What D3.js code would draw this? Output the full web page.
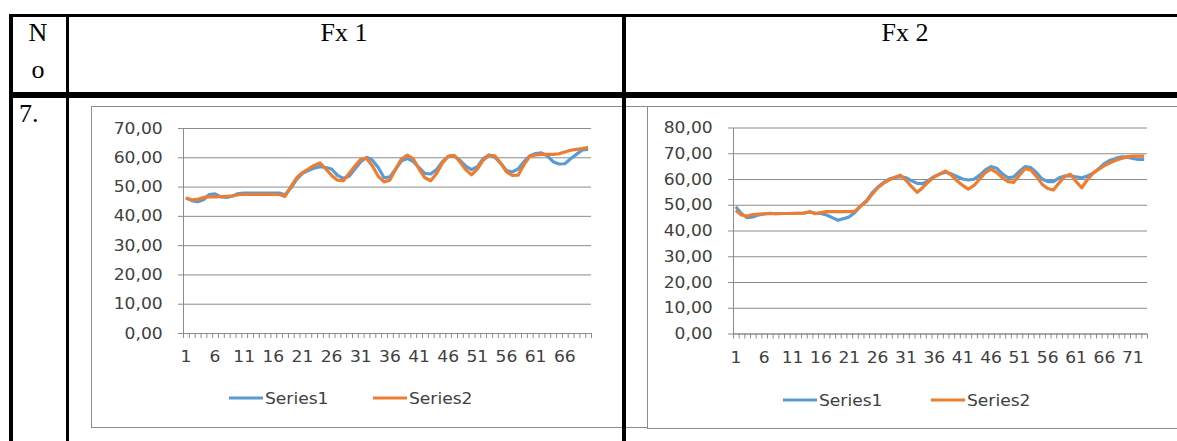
<!DOCTYPE html>
<html>
<head>
<meta charset="utf-8">
<script src="https://cdn.jsdelivr.net/npm/d3@7"></script>
<style>
  body { margin: 0; background: #fff; }
  svg { display: block; }
</style>
</head>
<body>
<div class="mydiv"></div>
<script>
var width = 1177;
var height = 441;

// data
var headers = ["Fx 1", "Fx 2"];
var rowNo = "7.";
var seriesNames = ["Series1", "Series2"];

var fx1Series1 = [46.2, 45.2, 44.8, 45.5, 47.3, 47.5, 46.5, 46.3, 46.8, 47.6,
                  47.8, 47.8, 47.8, 47.8, 47.8, 47.8, 47.8, 47.2, 49.5, 52.5,
                  54.5, 55.5, 56.3, 56.8, 56.5, 56.0, 53.8, 52.8, 53.5, 56.0,
                  58.5, 60.0, 59.0, 56.5, 53.0, 53.3, 56.0, 58.8, 59.6, 58.5,
                  56.5, 54.5, 54.3, 55.8, 58.5, 60.3, 60.5, 59.0, 57.0, 55.8,
                  56.8, 59.5, 60.8, 60.0, 58.0, 55.5, 55.0, 56.0, 58.5, 60.5,
                  61.3, 61.5, 60.5, 58.5, 57.7, 57.8, 59.5, 61.0, 62.5, 62.7];
var fx1Series2 = [46.0, 45.5, 45.6, 46.3, 46.5, 46.5, 46.6, 46.7, 46.8, 47.2,
                  47.3, 47.3, 47.3, 47.3, 47.3, 47.3, 47.3, 46.6, 50.0, 53.0,
                  54.8, 56.0, 57.2, 58.1, 56.0, 53.8, 52.2, 52.0, 54.5, 57.0,
                  59.3, 59.6, 57.0, 53.5, 51.6, 52.2, 56.0, 59.5, 60.7, 59.5,
                  56.0, 53.0, 52.0, 54.5, 58.0, 60.3, 60.7, 58.5, 55.8, 54.0,
                  56.0, 59.0, 60.7, 60.5, 58.0, 55.0, 53.8, 53.9, 57.5, 60.3,
                  60.8, 61.0, 61.0, 61.0, 61.2, 61.8, 62.4, 62.7, 63.0, 63.4];

var fx2Series1 = [49.2, 46.5, 45.0, 45.3, 46.0, 46.4, 46.7, 46.5, 46.6, 46.6,
                  46.7, 46.7, 46.8, 47.2, 46.8, 46.6, 46.0, 45.0, 44.0, 44.6,
                  45.3, 47.0, 49.5, 51.5, 54.5, 56.8, 58.5, 60.0, 60.6, 60.9,
                  60.5, 59.3, 58.3, 58.2, 59.5, 61.0, 62.0, 62.6, 62.0, 61.0,
                  60.0, 59.6, 59.9, 61.5, 63.5, 64.8, 64.2, 62.0, 60.5, 60.8,
                  63.0, 64.8, 64.4, 62.5, 60.0, 59.0, 59.0, 60.5, 61.1, 61.3,
                  60.8, 60.5, 61.2, 62.3, 64.0, 66.0, 67.3, 68.0, 68.6, 68.5,
                  68.0, 67.6, 67.6];
var fx2Series2 = [47.8, 46.0, 45.6, 46.2, 46.4, 46.5, 46.5, 46.5, 46.6, 46.6,
                  46.6, 46.7, 46.7, 47.3, 46.5, 47.0, 47.3, 47.3, 47.3, 47.3,
                  47.3, 47.5, 49.5, 51.2, 54.0, 56.5, 58.3, 59.6, 60.6, 61.5,
                  59.5, 57.0, 54.8, 56.8, 59.0, 60.8, 62.0, 63.1, 61.5, 59.3,
                  57.5, 56.1, 57.5, 60.0, 62.5, 63.8, 62.5, 60.5, 59.0, 58.7,
                  61.5, 64.0, 63.5, 61.0, 58.0, 56.3, 55.7, 58.5, 61.0, 61.8,
                  59.0, 56.6, 59.8, 62.3, 63.8, 65.2, 66.3, 67.3, 68.0, 68.6,
                  68.9, 68.9, 68.9];

var fx1YTicks = [0, 10, 20, 30, 40, 50, 60, 70];
var fx2YTicks = [0, 10, 20, 30, 40, 50, 60, 70, 80];

var blue = "#5B9BD5";
var orange = "#ED7D31";
var grid = "#8c8c8c";
var txt = "#404040";
var stretch = "scale(1.07,1)";

var svg = d3.select(".mydiv").append("svg")
    .attr("width", width)
    .attr("height", height);

var fmt = function(d) { return d3.format(".2f")(d).replace(".", ","); };

function drawChart(box, plot, yTicks, s1, s2, legend) {
  var g = svg.append("g");

  g.append("rect")
    .attr("x", box.x + 0.5).attr("y", box.y + 0.5)
    .attr("width", box.w).attr("height", box.h)
    .attr("fill", "#fff").attr("stroke", grid);

  var n = s1.length;
  var cats = d3.range(1, n + 1);
  var x = d3.scaleBand().domain(cats).range([plot.x0, plot.x1]);
  var xb = d3.scaleLinear().domain([0, n]).range([plot.x0, plot.x1]);
  var y = d3.scaleLinear().domain([0, d3.max(yTicks)]).range([plot.y0, plot.y1]);

  // gridlines
  g.append("g")
    .attr("transform", "translate(" + plot.x0 + ",0)")
    .call(d3.axisLeft(y).tickValues(yTicks).tickSize(-(plot.x1 - plot.x0)).tickFormat(""))
    .call(function(a) { a.select(".domain").remove(); })
    .selectAll("line").attr("stroke", grid);

  // y axis
  var ya = g.append("g")
    .attr("transform", "translate(" + plot.x0 + ",0)")
    .call(d3.axisLeft(y).tickValues(yTicks).tickSize(5).tickSizeOuter(0).tickFormat(fmt));
  ya.select(".domain").attr("stroke", grid);
  ya.selectAll("line").attr("stroke", grid);
  ya.selectAll("text")
    .attr("x", -19)
    .attr("transform", stretch)
    .attr("fill", txt)
    .style("font-family", "DejaVu Sans")
    .style("font-size", "16px");

  // x axis: tick marks between categories
  var xt = g.append("g")
    .attr("transform", "translate(0," + plot.y0 + ")")
    .call(d3.axisBottom(xb).tickValues(d3.range(0, n + 1)).tickSize(5).tickSizeOuter(0).tickFormat(""));
  xt.select(".domain").attr("stroke", grid);
  xt.selectAll("line").attr("stroke", grid);

  // x labels every 5th category
  var xl = g.append("g")
    .attr("transform", "translate(0," + plot.y0 + ")")
    .call(d3.axisBottom(x).tickValues(cats.filter(function(d) { return (d - 1) % 5 === 0; })).tickSize(0));
  xl.select(".domain").remove();
  xl.selectAll("text")
    .attr("y", 18)
    .attr("transform", stretch)
    .attr("fill", txt)
    .style("font-family", "DejaVu Sans")
    .style("font-size", "16px");

  var line = d3.line()
    .x(function(d, i) { return x(cats[i]) + x.bandwidth() / 2; })
    .y(function(d) { return y(d); });

  g.append("path").datum(s1)
    .attr("d", line).attr("fill", "none")
    .attr("stroke", blue).attr("stroke-width", 3.2).attr("stroke-linejoin", "round");
  g.append("path").datum(s2)
    .attr("d", line).attr("fill", "none")
    .attr("stroke", orange).attr("stroke-width", 3.2).attr("stroke-linejoin", "round");

  // legend
  var colors = [blue, orange];
  seriesNames.forEach(function(name, i) {
    var lx = legend.x[i];
    g.append("line")
      .attr("x1", lx).attr("x2", lx + 34)
      .attr("y1", legend.y).attr("y2", legend.y)
      .attr("stroke", colors[i]).attr("stroke-width", 3);
    g.append("text")
      .attr("transform", "translate(" + (lx + 36) + "," + (legend.y + 6) + ") " + stretch)
      .attr("fill", txt)
      .style("font-family", "DejaVu Sans")
      .style("font-size", "16px")
      .text(name);
  });
}

drawChart({ x: 91, y: 106, w: 560, h: 321 },
          { x0: 183, x1: 591, y0: 333, y1: 128 },
          fx1YTicks, fx1Series1, fx1Series2,
          { x: [229, 373], y: 398 });

drawChart({ x: 647, y: 106, w: 560, h: 322 },
          { x0: 733, x1: 1147, y0: 333.5, y1: 127.5 },
          fx2YTicks, fx2Series1, fx2Series2,
          { x: [783, 931], y: 400 });

// table frame
var tbl = svg.append("g");
tbl.append("rect").attr("x", 9).attr("y", 14).attr("width", width).attr("height", 3).attr("fill", "#000");
tbl.append("rect").attr("x", 9).attr("y", 92).attr("width", width).attr("height", 6).attr("fill", "#000");
tbl.append("rect").attr("x", 9).attr("y", 14).attr("width", 4).attr("height", height).attr("fill", "#000");
tbl.append("rect").attr("x", 66).attr("y", 14).attr("width", 3).attr("height", height).attr("fill", "#000");
tbl.append("rect").attr("x", 622).attr("y", 14).attr("width", 4).attr("height", height).attr("fill", "#000");

var serif = "Liberation Serif";
tbl.append("text").attr("x", 38).attr("y", 41).attr("text-anchor", "middle")
  .style("font-family", serif).style("font-size", "26px").text("N");
tbl.append("text").attr("x", 38).attr("y", 78).attr("text-anchor", "middle")
  .style("font-family", serif).style("font-size", "26px").text("o");
tbl.append("text").attr("x", 344).attr("y", 41).attr("text-anchor", "middle")
  .style("font-family", serif).style("font-size", "26px").text(headers[0]);
tbl.append("text").attr("x", 905).attr("y", 41).attr("text-anchor", "middle")
  .style("font-family", serif).style("font-size", "26px").text(headers[1]);
tbl.append("text").attr("x", 19).attr("y", 122)
  .style("font-family", serif).style("font-size", "26px").text(rowNo);
</script>
</body>
</html>
